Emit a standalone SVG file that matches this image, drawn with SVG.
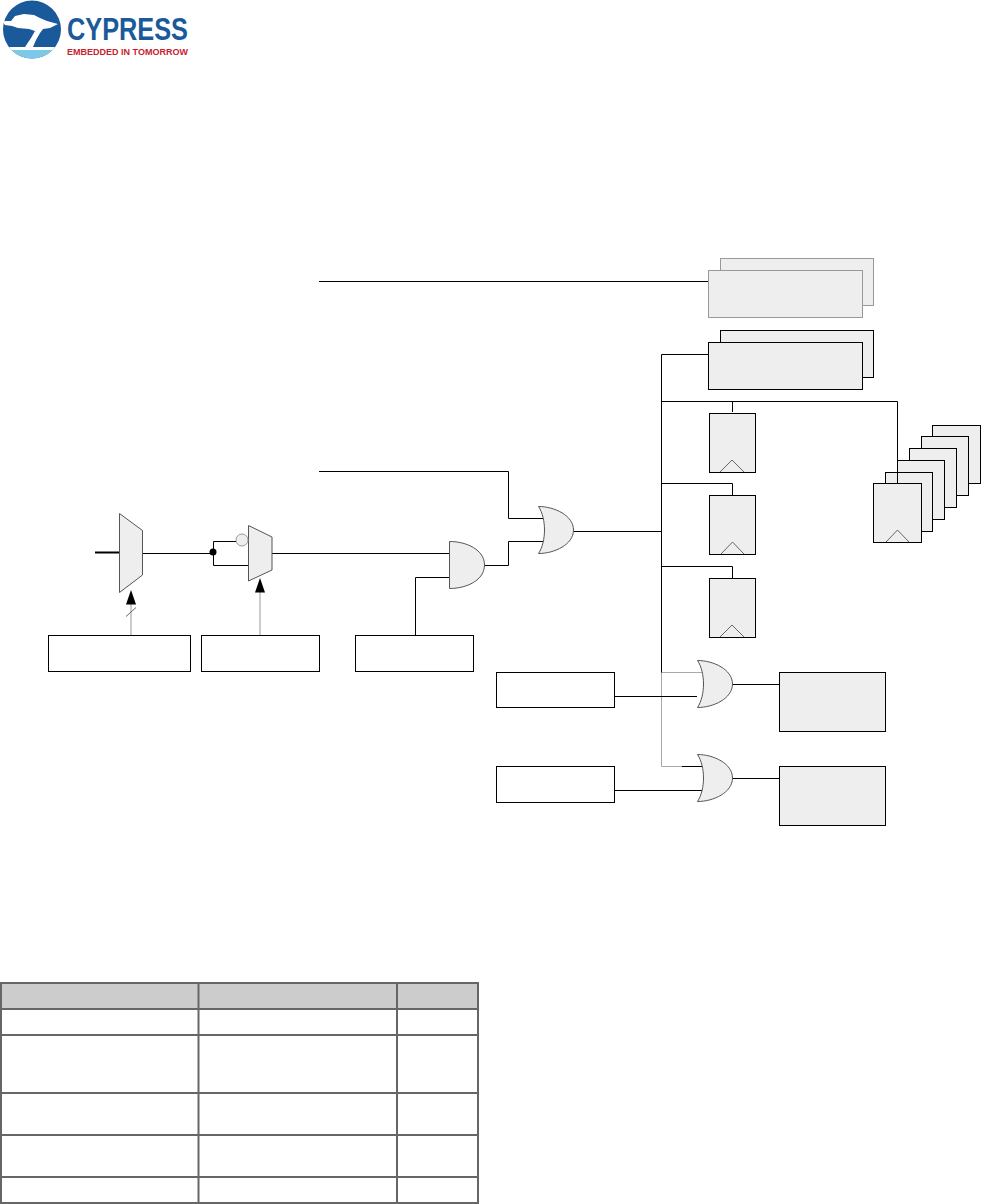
<svg xmlns="http://www.w3.org/2000/svg" width="982" height="1204" viewBox="0 0 982 1204">
<style>
.b{fill:#fff;stroke:#000;stroke-width:1}
.f{fill:#eee;stroke:#000;stroke-width:1}
.g{fill:#eee;stroke:#999;stroke-width:1}
.s{fill:#eee;stroke:#555;stroke-width:1}
.c{fill:none;stroke:#000;stroke-width:1}
.l{fill:none;stroke:#aaa;stroke-width:1}
.t{fill:none;stroke:#666;stroke-width:1}
.grid{fill:none;stroke:#666;stroke-width:2}
</style>
<defs>
<clipPath id="disc"><circle cx="32" cy="29.500" r="29"/></clipPath>
<path id="orShape" d="M0 0C16 0 35 9 35 23.500C35 38 16 47 0 47C4 41 6 32 6 23.500C6 15 4 6 0 0Z"/>
</defs>
<rect width="982" height="1204" fill="#fff"/>
<g id="logo">
<g clip-path="url(#disc)">
<rect x="0" y="0" width="64" height="60" fill="#1a5a9a"/>
<rect x="0" y="47" width="64" height="3.500" fill="#fff"/>
<rect x="0" y="50" width="64" height="10" fill="#7cc8ea"/>
<path d="M2 21L11 21L15 16L24 14L34 15L40 18L47 21L58 24L50 28L43 29L40 33L36 40L33 47L25 47L31 38L35 31L29 29L18 28L12 26L5 25Z" fill="#fff"/>
</g>
<text x="67" y="40" font-family="'Liberation Sans',sans-serif" font-size="32" font-weight="700" fill="#1a5a9a" textLength="121" lengthAdjust="spacingAndGlyphs">CYPRESS</text>
<text x="67" y="55" font-family="'Liberation Sans',sans-serif" font-size="9.500" font-weight="700" fill="#c8202f" textLength="121" lengthAdjust="spacingAndGlyphs">EMBEDDED IN TOMORROW</text>
</g>
<g id="connectors">
<path class="c" d="M319 281.500H708"/>
<path class="c" d="M319 471.500H508.500V518.500H544"/>
<path class="c" d="M484 565.500H508.500V541.500H544"/>
<path class="c" d="M272 553.500H450"/>
<path class="c" d="M415.500 635V577.500H450"/>
<path class="c" d="M573 531.500H661.500"/>
<path class="c" d="M708 354.500H661.500V673"/>
<path class="l" d="M661.500 673V766.500H682"/>
<path class="l" d="M661.500 672.500H702"/>
<path class="c" d="M682 766.500H703"/>
<path class="c" d="M661.500 401.500H897.500V483.500"/>
<path class="c" d="M732.500 401.500V412"/>
<path class="c" d="M661.500 483.500H732.500V495"/>
<path class="c" d="M661.500 566.500H732.500V578"/>
<path class="c" d="M614 696.500H697"/>
<path class="c" d="M614 790.500H703"/>
<path class="c" d="M732 684.500H779"/>
<path class="c" d="M732 778.500H779"/>
<path fill="none" stroke="#000" stroke-width="2" d="M95 552.500H119"/>
<path class="c" d="M142 553.500H213"/>
<path class="c" d="M236 541.500H213.500V565.500H248"/>
<circle cx="213" cy="552" r="3.500" fill="#000"/>
<path fill="none" stroke="#bbb" stroke-width="1.500" d="M131 604V635"/>
<path fill="none" stroke="#bbb" stroke-width="1.500" d="M260 592V635"/>
<path class="t" d="M126 616.500L136 607.500"/>
<path fill="#000" d="M131 590L136 604.500H126Z"/>
<path fill="#000" d="M260 578L265 592.500H255Z"/>
</g>
<g id="mux-1"><path class="s" d="M119.500 513.500L142.500 530.500V575L119.500 592.500Z"/></g>
<g id="mux-2"><path class="s" d="M248.500 525.500L272 537V570L248.500 581Z"/><circle class="g" cx="242" cy="540" r="6"/></g>
<g id="and-gate"><path class="s" d="M449.500 541.500C467 541.500 484.500 550 484.500 565C484.500 580 467 588.500 449.500 588.500Z"/></g>
<g id="or-gate-1"><use href="#orShape" x="538.500" y="506.500" class="s"/></g>
<g id="or-gate-2"><use href="#orShape" x="697.500" y="660.500" class="s"/></g>
<g id="or-gate-3"><use href="#orShape" x="697.500" y="754.500" class="s"/></g>
<g id="box-sel-1"><rect class="b" x="48.500" y="635.500" width="142" height="36"/></g>
<g id="box-sel-2"><rect class="b" x="201.500" y="635.500" width="118" height="36"/></g>
<g id="box-en"><rect class="b" x="355.500" y="635.500" width="118" height="36"/></g>
<g id="box-in-1"><rect class="b" x="496.500" y="672.500" width="118" height="35"/></g>
<g id="box-in-2"><rect class="b" x="496.500" y="766.500" width="118" height="36"/></g>
<g id="stack-gray"><rect class="g" x="720.500" y="258.500" width="153" height="47"/><rect class="g" x="708.500" y="270.500" width="154" height="47"/></g>
<g id="stack-black"><rect class="f" x="720.500" y="330.500" width="153" height="47"/><rect class="f" x="708.500" y="342.500" width="154" height="47"/></g>
<g id="ff-1"><rect class="f" x="709.500" y="413.500" width="46" height="59"/><path class="t" d="M720 472L732 460L744 472"/></g>
<g id="ff-2"><rect class="f" x="709.500" y="495.500" width="46" height="59"/><path class="t" d="M721 554L732.500 542L744 554"/></g>
<g id="ff-3"><rect class="f" x="709.500" y="578.500" width="46" height="59"/><path class="t" d="M720 637L732 625L744 637"/></g>
<g id="ff-stack">
<rect class="f" x="932.500" y="425.500" width="48" height="58"/>
<rect class="f" x="921.500" y="436.500" width="47" height="59"/>
<rect class="f" x="909.500" y="448.500" width="47" height="59"/>
<rect class="f" x="897.500" y="460.500" width="47" height="59"/>
<rect class="f" x="885.500" y="472.500" width="47" height="59"/>
<path class="c" d="M897.500 460.500V483.500"/>
<rect class="f" x="873.500" y="483.500" width="48" height="59"/>
<path class="t" d="M886 542L897.500 530L909 542"/>
</g>
<g id="out-1"><rect class="f" x="779.500" y="672.500" width="106" height="59"/></g>
<g id="out-2"><rect class="f" x="779.500" y="766.500" width="106" height="59"/></g>
<g id="table">
<rect x="1" y="983" width="477" height="26" fill="#ccc"/>
<path class="grid" d="M1 983H478V1203H1ZM1 1009H478M1 1035H478M1 1093H478M1 1135H478M1 1177H478M198.500 983V1203M397 983V1203"/>
</g>
</svg>
